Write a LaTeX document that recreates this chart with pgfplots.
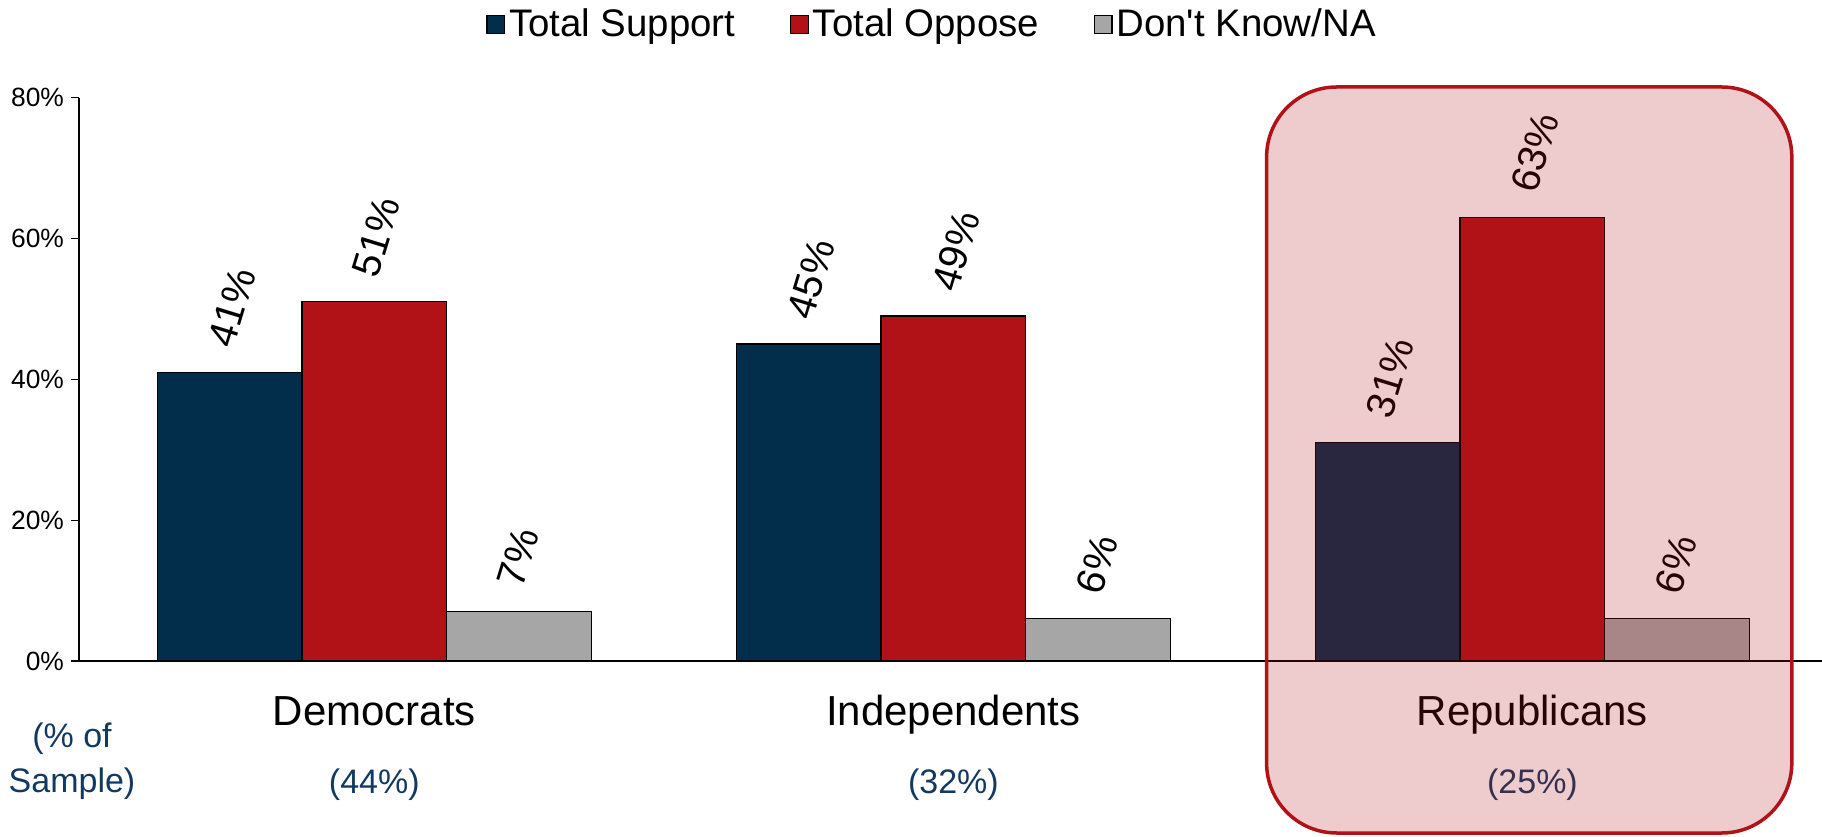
\documentclass[border=0pt]{standalone}
\usepackage{fontspec}
\setmainfont{Liberation Sans}[Ligatures=TeXOff]
\usepackage{pgfplots}
\pgfplotsset{compat=1.18}

\definecolor{support}{HTML}{022D4B}
\definecolor{oppose}{HTML}{B01218}
\definecolor{dkna}{HTML}{A6A6A6}
\definecolor{sample}{HTML}{123A60}

\newcommand{\fsz}[1]{\fontsize{#1}{1.2\dimexpr#1pt\relax}\selectfont}
% fixed-width legend entries, so the three keys sit at equal steps
\newcommand{\lentry}[1]{\makebox[138.5pt][l]{#1}}

\begin{document}
\begin{tikzpicture}
\useasboundingbox (0,0) rectangle (911pt,418pt);
\begin{axis}[
  at={(39.5pt,87.5pt)}, anchor=south west,
  scale only axis, width=871.5pt, height=281.7pt,
  xmin=-0.51, xmax=2.5, ymin=0, ymax=80,
  ybar, bar width=0.25,
  axis x line=bottom, axis y line=left,
  axis line style={-, line width=0.6pt, black},
  xtick={0,1,2},
  xticklabels={Democrats,Independents,Republicans},
  xtick style={draw=none},
  xticklabel style={font=\fsz{21}, anchor=base, yshift=-28pt},
  ytick={0,20,40,60,80},
  yticklabel={\pgfmathprintnumber{\tick}\%},
  ytick style={line width=0.6pt, black},
  major tick length=4pt, tick align=outside,
  yticklabel style={font=\fsz{13.2}},
  /pgf/number format/assume math mode=true,
  clip=false,
  point meta=y,
  nodes near coords={\pgfmathprintnumber{\pgfplotspointmeta}\%},
  every node near coord/.append style={font=\fsz{20}, text=black,
    anchor=west, inner sep=0pt, xshift=-4.8pt, yshift=13pt, rotate=73},
  legend columns=3,
  legend style={at={(0.2335,1.130)}, anchor=west, draw=none, fill=none,
    inner sep=0pt, font=\fsz{19.2}, nodes={inner xsep=2pt, inner ysep=1pt},
    /tikz/every even column/.append style={column sep=0pt}},
  legend image code/.code={\draw[#1, draw=black, line width=0.6pt]
    (0pt,-4.4pt) rectangle (8.75pt,4.4pt);},
]
\addplot[fill=support, draw=black, line width=0.6pt, bar shift=-0.25]
  coordinates {(0,41) (1,45) (2,31)};
\addlegendentry{\lentry{Total Support}}
\addplot[fill=oppose, draw=black, line width=0.6pt, bar shift=0]
  coordinates {(0,51) (1,49) (2,63)};
\addlegendentry{\lentry{Total Oppose}}
\addplot[fill=dkna, draw=black, line width=0.6pt, bar shift=0.25]
  coordinates {(0,7) (1,6) (2,6)};
\addlegendentry{\lentry{Don't Know/NA}}

% share of the sample under each group
\node[font=\fsz{17}, text=sample, anchor=base, yshift=-66pt] at (axis cs:0,0) {(44\%)};
\node[font=\fsz{17}, text=sample, anchor=base, yshift=-66pt] at (axis cs:1,0) {(32\%)};
\node[font=\fsz{17}, text=sample, anchor=base, yshift=-66pt] at (axis cs:2,0) {(25\%)};
\end{axis}

\node[font=\fsz{17}, text=sample, anchor=base] at (36pt,44pt) {(\% of};
\node[font=\fsz{17}, text=sample, anchor=base] at (36pt,21.6pt) {Sample)};

% highlight box round the Republicans group
\draw[draw=oppose, line width=1.75pt, fill=oppose, fill opacity=0.22,
  rounded corners=35pt] (633.3pt,1.5pt) rectangle (895.9pt,374.5pt);
\end{tikzpicture}
\end{document}
